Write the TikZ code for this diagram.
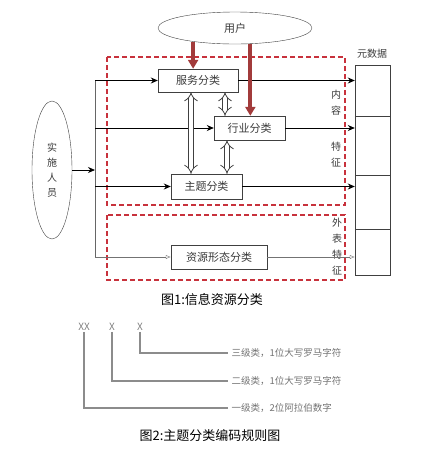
\documentclass[tikz,border=0pt]{standalone}
\usepackage{fontspec}
\setmainfont{Noto Sans CJK SC}
\usetikzlibrary{arrows.meta, shapes.geometric}
\definecolor{zonered}{HTML}{C8323C}
\definecolor{userred}{HTML}{A23B3B}
\definecolor{ink}{HTML}{3A3A3A}

\begin{document}
\begin{tikzpicture}[x=1pt, y=-1pt, text=ink,
  box/.style={draw=black!75, inner sep=0pt, font=\fontsize{11}{11}\selectfont},
  flow/.style={thick, -{Stealth[length=7pt,width=6pt]}},
  form/.style={draw=black!55, -{Latex[open,length=5pt,width=4pt]}},
  usrarrow/.style={line width=4pt, draw=userred, -{Triangle[length=9pt,width=10pt]}},
  link/.style={draw=black!75, line width=0.8pt, double=white, double distance=4pt, {Implies}-{Implies}},
  zone/.style={draw=zonered, line width=1.3pt, dash pattern=on 5pt off 3pt},
  side/.style={align=center, font=\fontsize{10}{16}\selectfont},
  code/.style={draw=black!45, line width=1.6pt},
  codetext/.style={text=black!55, font=\fontsize{9.5}{9.5}\selectfont, anchor=west},
  caption/.style={text=black, font=\fontsize{13}{13}\selectfont}]
\useasboundingbox (0,0) rectangle (443,451);

% figure 1
\draw[zone] (107,57) rectangle (345,205);
\draw[zone] (107,215) rectangle (345,280);

\node[ellipse, draw=black!75, minimum width=154pt, minimum height=32pt, font=\fontsize{11}{11}\selectfont] (user) at (235,28) {用户};
\node[ellipse, draw=black!75, minimum width=40pt, minimum height=138pt, align=center, font=\fontsize{10}{15}\selectfont] (staff) at (52,170) {实\\施\\人\\员};

\node[box, minimum width=80pt, minimum height=23pt] (fwfl) at (198,80.5) {服务分类};
\node[box, minimum width=71pt, minimum height=24pt] (hyfl) at (249.5,128) {行业分类};
\node[box, minimum width=71pt, minimum height=25pt] (ztfl) at (206.5,186.5) {主题分类};
\node[box, minimum width=96pt, minimum height=24pt] (zyfl) at (219,257) {资源形态分类};

\node[draw=black!75, minimum width=35pt, minimum height=210pt, inner sep=0pt] (meta) at (372.5,170) {};
\foreach \d in {51,110,164}
  \draw[black!75] ([yshift=-\d pt]meta.north west) -- ([yshift=-\d pt]meta.north east);
\node[font=\fontsize{10}{10}\selectfont] (metalbl) at (372,54) {元数据};

\node[side] (nr) at (336,103) {内\\容};
\node[side] (tz) at (336,155) {特\\征};
\node[side] (wb) at (337,247) {外\\表\\特\\征};

\coordinate (bus) at (95,0);
\draw[black!60] (fwfl -| bus) -- (zyfl -| bus);
\draw[flow] (staff.east) -- (staff.east -| bus);
\draw[flow] (fwfl -| bus) -- (fwfl.west);
\draw[flow] (hyfl -| bus) -- (hyfl.west);
\draw[flow] (ztfl -| bus) -- (ztfl.west);
\draw[form] (zyfl -| bus) -- (zyfl.west);

\draw[flow] (fwfl.east) -- (fwfl.east -| meta.west);
\draw[flow] (hyfl.east) -- (hyfl.east -| meta.west);
\draw[flow] (ztfl.east) -- (ztfl.east -| meta.west);
\draw[form] (zyfl.east) -- (zyfl.east -| meta.west);

\draw[usrarrow] (user.198) -- (user.198 |- fwfl.north);
\draw[usrarrow] (user.-46) -- (user.-46 |- hyfl.north);

\draw[link] ([xshift=27pt]fwfl.south) -- ([xshift=27pt]fwfl.south |- hyfl.north);
\draw[link] ([xshift=-7pt]fwfl.south) -- ([xshift=-7pt]fwfl.south |- ztfl.north);
\draw[link] ([xshift=-22.5pt]hyfl.south) -- ([xshift=-22.5pt]hyfl.south |- ztfl.north);

\node[caption] (cap1) at (212,300) {图1:信息资源分类};

% figure 2
\node[text=black!50, font=\fontsize{10}{10}\selectfont, inner sep=1pt] (x1) at (84,327) {XX};
\node[text=black!50, font=\fontsize{10}{10}\selectfont, inner sep=1pt] (x2) at (112,327) {X};
\node[text=black!50, font=\fontsize{10}{10}\selectfont, inner sep=1pt] (x3) at (140,327) {X};

\node[codetext] (l3) at (228,353) {三级类，1位大写罗马字符};
\node[codetext] (l2) at (228,381) {二级类，1位大写罗马字符};
\node[codetext] (l1) at (228,408) {一级类，2位阿拉伯数字};

\draw[code] (x3.south) |- (l3.west);
\draw[code] (x2.south) |- (l2.west);
\draw[code] (x1.south) |- (l1.west);

\node[caption] (cap2) at (210,436) {图2:主题分类编码规则图};
\end{tikzpicture}
\end{document}
